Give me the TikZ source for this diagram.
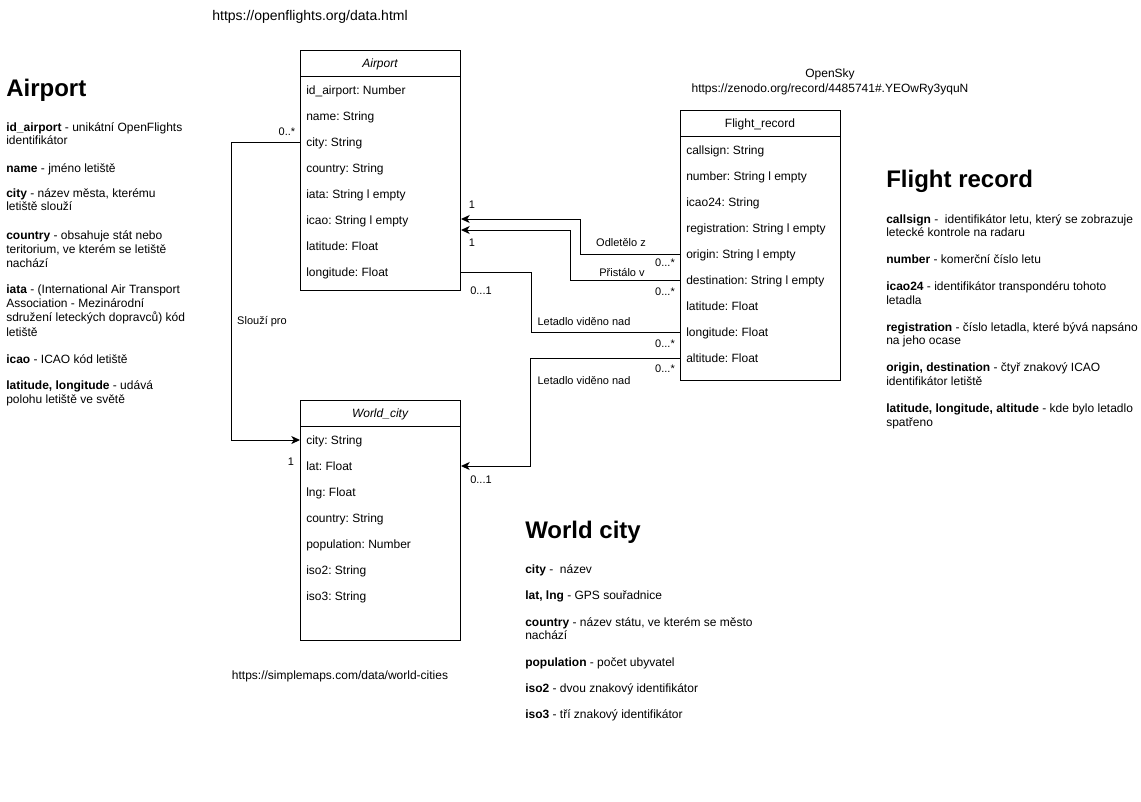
\documentclass[tikz,border=0pt]{standalone}
\usepackage{fontspec}
\setmainfont{Liberation Sans}
\usetikzlibrary{arrows.meta,calc}
\frenchspacing
\begin{document}
\frenchspacing
\begin{tikzpicture}[x=0.75pt,y=-0.75pt,
  cls/.style={draw, line width=0.75pt, minimum width=120pt, anchor=north west, inner sep=0},
  row/.style={anchor=west, inner sep=0, font=\fontsize{9}{11}\selectfont, text height=6.5pt, text depth=1.9pt},
  ttl/.style={inner sep=0, font=\fontsize{9}{11}\selectfont, text height=6.5pt, text depth=1.9pt},
  lbl/.style={inner sep=0, font=\fontsize{8.25}{10}\selectfont, text height=6pt, text depth=1.7pt},
  desc/.style={anchor=base west, inner sep=0, font=\fontsize{9}{11}\selectfont},
  hdg/.style={anchor=base west, inner sep=0, font=\fontsize{18}{22}\selectfont\bfseries},
  url/.style={inner sep=0, font=\fontsize{9}{11}\selectfont},
  conn/.style={line width=0.75pt, -{Stealth[length=6.5pt,width=6pt,inset=1.8pt]}},
  plainline/.style={line width=0.75pt}]

\useasboundingbox (0,0) rectangle (1141,801);
\fill[white] (0,0) rectangle (1141,801);

% ---------- Airport class ----------
\node[cls, minimum height=180pt] (airport) at (300,50) {};
\draw[plainline] ($(airport.north west)+(0,26)$) -- ($(airport.north east)+(0,26)$);
\node[ttl] (airport-t) at (380,64) {\itshape Airport};
\foreach \t [count=\i] in {id\_airport: Number, name: String, city: String, country: String, iata: String l empty, icao: String l empty, latitude: Float, longitude: Float}
  \node[row] (a\i) at (306,{91+26*(\i-1)}) {\t};

% ---------- Flight_record class ----------
\node[cls, minimum height=202.5pt] (flight) at (680,110) {};
\draw[plainline] ($(flight.north west)+(0,26)$) -- ($(flight.north east)+(0,26)$);
\node[ttl] (flight-t) at (760,124) {Flight\_record};
\foreach \t [count=\i] in {callsign: String, number: String l empty, icao24: String, registration: String l empty, origin: String l empty, destination: String l empty, latitude: Float, longitude: Float, altitude: Float}
  \node[row] (f\i) at (686,{151+26*(\i-1)}) {\t};

% ---------- World_city class ----------
\node[cls, minimum height=180pt] (world) at (300,400) {};
\draw[plainline] ($(world.north west)+(0,26)$) -- ($(world.north east)+(0,26)$);
\node[ttl] (world-t) at (380,414) {\itshape World\_city};
\foreach \t [count=\i] in {city: String, lat: Float, lng: Float, country: String, population: Number, iso2: String, iso3: String}
  \node[row] (w\i) at (306,{441+26*(\i-1)}) {\t};

% ---------- Connectors ----------
\draw[conn] ($(airport.west |- a3)+(0,-1)$) -- ++(-69,0) |- ($(world.west |- w1)+(0,-1)$);
\draw[conn] ($(flight.west |- f5)+(0,-1)$) -- ++(-100,0) |- ($(airport.east |- a6)+(0,-2)$);
\draw[conn] ($(flight.west |- f6)+(0,-1)$) -- ++(-110,0) |- ($(airport.east |- a6)+(0,9)$);
\draw[plainline] ($(airport.east |- a8)+(0,-1)$) -- ++(70,0) |- ($(flight.west |- f8)+(0,-1)$);
\draw[conn] ($(flight.west |- f9)+(0,-1)$) -- ++(-150,0) |- ($(world.east |- w2)+(0,-1)$);

% ---------- Connector labels ----------
\node[lbl] (l1) at (287,132.5) {0..*};
\node[lbl] (l2) at (291,462.5) {1};
\node[lbl] (l3) at (262,321.5) {Slouží pro};
\node[lbl] (l4) at (472,205.5) {1};
\node[lbl] (l5) at (472,243.5) {1};
\node[lbl] (l6) at (621,243.5) {Odletělo z};
\node[lbl] (l7) at (665,263.5) {0...*};
\node[lbl] (l8) at (622,273.5) {Přistálo v};
\node[lbl] (l9) at (665,292.5) {0...*};
\node[lbl] (l10) at (481,291.5) {0...1};
\node[lbl] (l11) at (584,322.5) {Letadlo viděno nad};
\node[lbl] (l12) at (665,344.5) {0...*};
\node[lbl] (l13) at (665,369.5) {0...*};
\node[lbl] (l14) at (584,381.5) {Letadlo viděno nad};
\node[lbl] (l15) at (481,480.5) {0...1};

% ---------- URLs ----------
\node[url, font=\fontsize{10.5}{12}\selectfont] (u1) at (310,17) {https://openflights.org/data.html};
\node[url] (u2) at (830,74) {OpenSky};
\node[url] (u3) at (830,89) {https://zenodo.org/record/4485741\#.YEOwRy3yquN};
\node[url] (u4) at (340,676) {https://simplemaps.com/data/world-cities};

% ---------- Airport description ----------
\node[hdg] (h1) at (6,96) {Airport};
\node[desc] (da1) at (6,131.5) {\textbf{id\_airport} - unikátní OpenFlights};
\node[desc] (da2) at (6,144.5) {identifikátor};
\node[desc] (da3) at (6,172.5) {\textbf{name} - jméno letiště};
\node[desc] (da4) at (6,197.5) {\textbf{city} - název města, kterému};
\node[desc] (da5) at (6,210.5) {letiště slouží};
\node[desc] (da6) at (6,239.5) {\textbf{country} - obsahuje stát nebo};
\node[desc] (da7) at (6,253.5) {teritorium, ve kterém se letiště};
\node[desc] (da8) at (6,267.5) {nachází};
\node[desc] (da9) at (6,293.5) {\textbf{iata} - (International Air Transport};
\node[desc] (da10) at (6,307.5) {Association - Mezinárodní};
\node[desc] (da11) at (6,321.5) {sdružení leteckých dopravců) kód};
\node[desc] (da12) at (6,336) {letiště};
\node[desc] (da13) at (6,363.5) {\textbf{icao} - ICAO kód letiště};
\node[desc] (da14) at (6,389.5) {\textbf{latitude, longitude} - udává};
\node[desc] (da15) at (6,403.5) {polohu letiště ve světě};

% ---------- Flight record description ----------
\node[hdg] (h2) at (886,187) {Flight record};
\node[desc] (df1) at (886,223.5) {\textbf{callsign} -\ \ identifikátor letu, který se zobrazuje};
\node[desc] (df2) at (886,236.5) {letecké kontrole na radaru};
\node[desc] (df3) at (886,263.5) {\textbf{number} - komerční číslo letu};
\node[desc] (df4) at (886,290.5) {\textbf{icao24} - identifikátor transpondéru tohoto};
\node[desc] (df5) at (886,304.5) {letadla};
\node[desc] (df6) at (886,331.5) {\textbf{registration} - číslo letadla, které bývá napsáno};
\node[desc] (df7) at (886,344.5) {na jeho ocase};
\node[desc] (df8) at (886,371.5) {\textbf{origin, destination} - čtyř znakový ICAO};
\node[desc] (df9) at (886,385.5) {identifikátor letiště};
\node[desc] (df10) at (886,412.5) {\textbf{latitude, longitude, altitude} - kde bylo letadlo};
\node[desc] (df11) at (886,426.5) {spatřeno};

% ---------- World city description ----------
\node[hdg] (h3) at (525,538) {World city};
\node[desc] (dw1) at (525,573.5) {\textbf{city} -\ \ název};
\node[desc] (dw2) at (525,599.5) {\textbf{lat, lng} - GPS souřadnice};
\node[desc] (dw3) at (525,626.5) {\textbf{country} - název státu, ve kterém se město};
\node[desc] (dw4) at (525,639.5) {nachází};
\node[desc] (dw5) at (525,666.5) {\textbf{population} - počet ubyvatel};
\node[desc] (dw6) at (525,692.5) {\textbf{iso2} - dvou znakový identifikátor};
\node[desc] (dw7) at (525,718.5) {\textbf{iso3} - tří znakový identifikátor};
\end{tikzpicture}
\end{document}
